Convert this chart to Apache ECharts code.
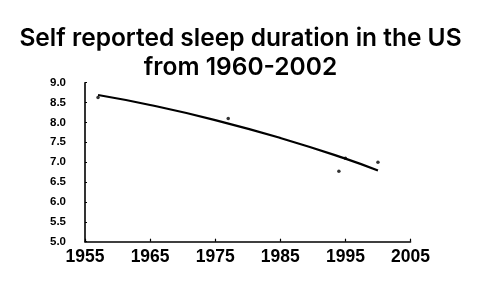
<!DOCTYPE html>
<html>
<head>
<meta charset="utf-8">
<script src="https://cdn.jsdelivr.net/npm/echarts@6/dist/echarts.min.js"></script>
<style>html,body{margin:0;padding:0;background:#fff}#c{width:500px;height:281px}</style>
</head>
<body>
<div id="c"></div>
<script>
const titleText = 'Self reported sleep duration in the US\nfrom 1960-2002';
const surveyYears = [1957, 1977, 1994, 1995, 2000];
const sleepHours = [8.63, 8.1, 6.77, 7.1, 7.0];
const trendYears = [1957, 1965, 1975, 1985, 1995, 2000];
const trendHours = [8.69, 8.44, 8.06, 7.61, 7.09, 6.79];
const xTicks = [1955, 1965, 1975, 1985, 1995, 2005];
const yTicks = [5.0, 5.5, 6.0, 6.5, 7.0, 7.5, 8.0, 8.5, 9.0];

const chart = echarts.init(document.getElementById('c'), null, {renderer: 'canvas'});
chart.setOption({
  animation: false,
  backgroundColor: '#fff',
  title: {
    text: titleText,
    left: 240.5,
    top: 24,
    textAlign: 'center',
    padding: 0,
    textStyle: {
      fontFamily: 'Inter',
      fontWeight: 600,
      fontSize: 24.5,
      lineHeight: 29,
      color: '#000'
    }
  },
  grid: {left: 85, right: 89.5, top: 82.7, bottom: 39.3, containLabel: false},
  xAxis: {
    type: 'value',
    min: xTicks[0],
    max: xTicks[xTicks.length - 1],
    interval: 10,
    axisLine: {show: true, onZero: false, lineStyle: {color: '#000', width: 1.6}},
    axisTick: {show: true, inside: true, length: 3, lineStyle: {color: '#000', width: 1.2}},
    splitLine: {show: false},
    axisLabel: {
      color: '#000', fontFamily: 'Liberation Sans', fontWeight: 'bold', fontSize: 17.5, margin: 6,
      formatter: v => String(v)
    }
  },
  yAxis: {
    type: 'value',
    min: yTicks[0],
    max: yTicks[yTicks.length - 1],
    interval: 0.5,
    axisLine: {show: true, onZero: false, lineStyle: {color: '#000', width: 1.6}},
    axisTick: {show: true, inside: true, length: 2, lineStyle: {color: '#000', width: 1.2}},
    splitLine: {show: false},
    axisLabel: {
      color: '#000', fontFamily: 'Liberation Sans', fontWeight: 'bold', fontSize: 11.5, margin: 19,
      formatter: v => v.toFixed(1)
    }
  },
  series: [
    {
      name: 'Trend',
      type: 'line',
      data: trendYears.map((y, i) => [y, trendHours[i]]),
      smooth: true,
      showSymbol: false,
      lineStyle: {color: '#000', width: 2.2},
      z: 2
    },
    {
      name: 'Survey',
      type: 'scatter',
      data: surveyYears.map((y, i) => [y, sleepHours[i]]),
      symbol: 'circle',
      symbolSize: 3.5,
      itemStyle: {color: '#000'},
      z: 3
    }
  ]
});
</script>
</body>
</html>
